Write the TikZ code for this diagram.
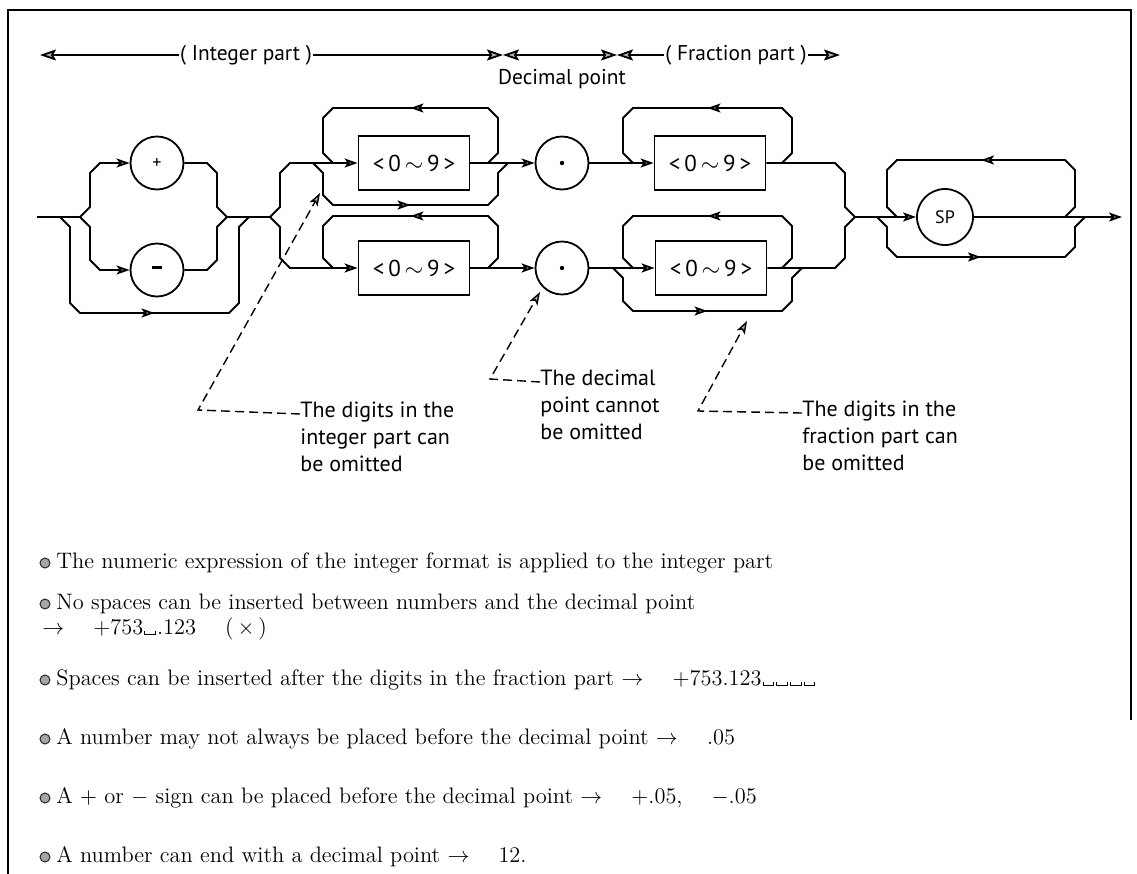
\documentclass[tikz,border=0pt]{standalone}
\usepackage{fontspec}
\newfontfamily\railfont{PT Sans}
\usetikzlibrary{positioning,calc,arrows.meta,decorations.markings}

% visible space mark used in the examples
\newcommand{\vsp}{\kern0.5pt\rule{0.4pt}{1.8pt}\rule{0.45em}{0.4pt}\rule{0.4pt}{1.8pt}\kern0.5pt}
\newcommand{\digs}{<\,0\,$\sim$\,9\,>}

\tikzset{
  rail/.style={line width=0.9pt},
  midarrow/.style={postaction={decorate}, decoration={markings,
      mark=at position 0.5 with {\arrow{>}}}},
  term/.style={circle, draw, line width=0.9pt, minimum size=26.5pt, inner sep=0pt,
      font=\railfont\fontsize{9}{10}\selectfont},
  digbox/.style={rectangle, draw, line width=0.9pt, minimum width=55.5pt,
      minimum height=27pt, inner sep=0pt, font=\railfont\fontsize{11.5}{12}\selectfont},
  hdr/.style={inner sep=0.5pt, font=\railfont\fontsize{10.7}{12}\selectfont},
  span/.style={line width=0.9pt, >={Stealth[length=8pt, width=5.5pt, inset=1.5pt, fill=gray!60]}},
  note/.style={line width=0.7pt, dash pattern=on 4.5pt off 2.5pt},
  notetext/.style={align=left, inner sep=0pt, anchor=north west,
      font=\railfont\fontsize{11}{13.3}\selectfont},
  bul/.style={circle, fill=gray!70, draw=black!85, line width=0.5pt,
      minimum size=5pt, inner sep=0pt},
  bultext/.style={anchor=west, inner sep=0pt, font=\fontsize{11.2}{13}\selectfont},
}

\begin{document}
\begin{tikzpicture}[x=0.5pt, y=-0.5pt,
    >={Stealth[length=6.5pt, width=4.5pt, inset=1.5pt, fill=gray!60]}]
   \useasboundingbox (0,0) rectangle (1137,874);

   % frame
   \draw[line width=1pt] (8,874) -- (8,10) -- (1131,10) -- (1131,720);

   % ranges on top
   \coordinate (h0) at (40,55);
   \coordinate (h1) at (503,55);
   \coordinate (h2) at (617,55);
   \coordinate (h3) at (840,55);
   \node[hdr] (tint)  at (246,55) {( Integer part )};
   \node[hdr] (tfrac) at (736,55) {( Fraction part )};
   \node[hdr] (tdec)  at (562,79) {Decimal point};
   \draw[span,<-]  (h0) -- (tint);
   \draw[span,->]  (tint) -- (h1);
   \draw[span,<->] (h1) -- (h2);
   \draw[span,<-]  (h2) -- (tfrac);
   \draw[span,->]  (tfrac) -- (h3);

   % sign
   \coordinate (in0) at (37,217);
   \coordinate (s1)  at (80,217);
   \coordinate (m1)  at (227,217);
   \coordinate (s2)  at (270,217);
   \node[term] (pl) at (157,163) {+};
   \node[term] (mi) at (157,270) {\rule[2.3pt]{5pt}{1.3pt}};

   \draw[rail] (in0) -- (s1);
   \draw[rail,->] (s1) -- ++(10,-10) -- ++(0,-34) -- ++(10,-10) -- (pl);
   \draw[rail,->] (s1) -- ++(10,10) -- ++(0,33) -- ++(10,10) -- (mi);
   \draw[rail] (pl) -- (207,163) -- ++(10,10) -- ++(0,34) -- (m1);
   \draw[rail] (mi) -- (207,270) -- ++(10,-10) -- ++(0,-33) -- (m1);
   \draw[rail,midarrow] (60,217) -- ++(10,10) -- ++(0,76) -- ++(10,10)
      -- (229,313) -- ++(10,-10) -- ++(0,-76) -- ++(10,-10);
   \draw[rail] (m1) -- (s2);

   % integer part
   \node[digbox] (d1) at (414,163) {\digs};
   \node[digbox] (d2) at (414,268) {\digs};
   \node[term] (p1) at (562,163) {};
   \node[term] (p2) at (562,268) {};
   \fill (p1) circle (1.1pt);
   \fill (p2) circle (1.1pt);

   \draw[rail,->] (s2) -- ++(10,-10) -- ++(0,-34) -- ++(10,-10) -- (d1);
   \draw[rail,->] (s2) -- ++(10,10) -- ++(0,31) -- ++(10,10) -- (d2);
   \draw[rail,midarrow] (488,163) -- ++(10,-10) -- ++(0,-35) -- ++(-10,-10)
      -- (333,108) -- ++(-10,10) -- ++(0,35) -- ++(10,10);
   \draw[rail,midarrow] (313,163) -- ++(10,10) -- ++(0,22) -- ++(10,10)
      -- (488,205) -- ++(10,-10) -- ++(0,-22) -- ++(10,-10);
   \draw[rail,midarrow] (488,268) -- ++(10,-10) -- ++(0,-32) -- ++(-10,-10)
      -- (333,216) -- ++(-10,10) -- ++(0,32) -- ++(10,10);
   \draw[rail,->] (d1) -- (p1);
   \draw[rail,->] (d2) -- (p2);

   % fraction part
   \node[digbox] (f1) at (710,163) {\digs};
   \node[digbox] (f2) at (711,268) {\digs};
   \coordinate (m2) at (855,217);

   \draw[rail,->] (p1) -- (f1);
   \draw[rail,->] (p2) -- (f2);
   \draw[rail,midarrow] (782,163) -- ++(10,-10) -- ++(0,-35) -- ++(-10,-10)
      -- (633,108) -- ++(-10,10) -- ++(0,35) -- ++(10,10);
   \draw[rail,midarrow] (782,268) -- ++(10,-10) -- ++(0,-32) -- ++(-10,-10)
      -- (633,216) -- ++(-10,10) -- ++(0,32) -- ++(10,10);
   \draw[rail,midarrow] (613,268) -- ++(10,10) -- ++(0,23) -- ++(10,10)
      -- (782,311) -- ++(10,-10) -- ++(0,-23) -- ++(10,-10);
   \draw[rail] (f1) -- (835,163) -- ++(10,10) -- ++(0,34) -- (m2);
   \draw[rail] (f2) -- (835,268) -- ++(10,-10) -- ++(0,-31) -- (m2);

   % trailing spaces
   \node[term, minimum size=28pt] (sp) at (945,217) {SP};
   \coordinate (out0) at (1122,217);
   \draw[rail,->] (m2) -- (sp);
   \draw[rail,->] (sp) -- (out0);
   \draw[rail,midarrow] (1065,217) -- ++(10,-10) -- ++(0,-37) -- ++(-10,-10)
      -- (897,160) -- ++(-10,10) -- ++(0,37) -- ++(10,10);
   \draw[rail,midarrow] (877,217) -- ++(10,10) -- ++(0,20) -- ++(10,10)
      -- (1065,257) -- ++(10,-10) -- ++(0,-20) -- ++(10,-10);

   % notes
   \node[notetext] (n1) at (300,402) {The digits in the\\integer part can\\be omitted};
   \node[notetext] (n2) at (540,370) {The decimal\\point cannot\\be omitted};
   \node[notetext] (n3) at (802,401) {The digits in the\\fraction part can\\be omitted};
   \coordinate (k1) at (198,410);
   \coordinate (k2) at (490,379);
   \coordinate (k3) at (698,411);
   \coordinate (e1) at (320,193);
   \coordinate (e2) at (540,292);
   \coordinate (e3) at (747,321);
   \draw[note,->] ([yshift=-6pt]n1.north west) -- (k1) -- (e1);
   \draw[note,->] ([yshift=-6pt]n2.north west) -- (k2) -- (e2);
   \draw[note,->] ([yshift=-6pt]n3.north west) -- (k3) -- (e3);

   % remarks
   \node[bul] (b1) at (45,563) {};
   \node[bul] (b2) at (45,604) {};
   \node[bul] (b3) at (45,680) {};
   \node[bul] (b4) at (45,739) {};
   \node[bul] (b5) at (45,798) {};
   \node[bul] (b6) at (45,857) {};
   \node[bultext] (l1) at (56,563) {The numeric expression of the integer format is applied to the integer part};
   \node[bultext] (l2) at (56,604) {No spaces can be inserted between numbers and the decimal point};
   \node[bultext] (l2b) at (42,629) {$\rightarrow$\hspace{1.3em}+753\vsp.123\hspace{1.3em}(\,$\times$\,)};
   \node[bultext] (l3) at (56,680) {Spaces can be inserted after the digits in the fraction part $\rightarrow$\hspace{1.3em}+753.123\vsp\vsp\vsp\vsp};
   \node[bultext] (l4) at (56,739) {A number may not always be placed before the decimal point $\rightarrow$\hspace{1.3em}.05};
   \node[bultext] (l5) at (56,798) {A $+$ or $-$ sign can be placed before the decimal point $\rightarrow$\hspace{1.3em}+.05,\hspace{1.3em}$-$.05};
   \node[bultext] (l6) at (56,857) {A number can end with a decimal point $\rightarrow$\hspace{1.3em}12.};
\end{tikzpicture}
\end{document}
